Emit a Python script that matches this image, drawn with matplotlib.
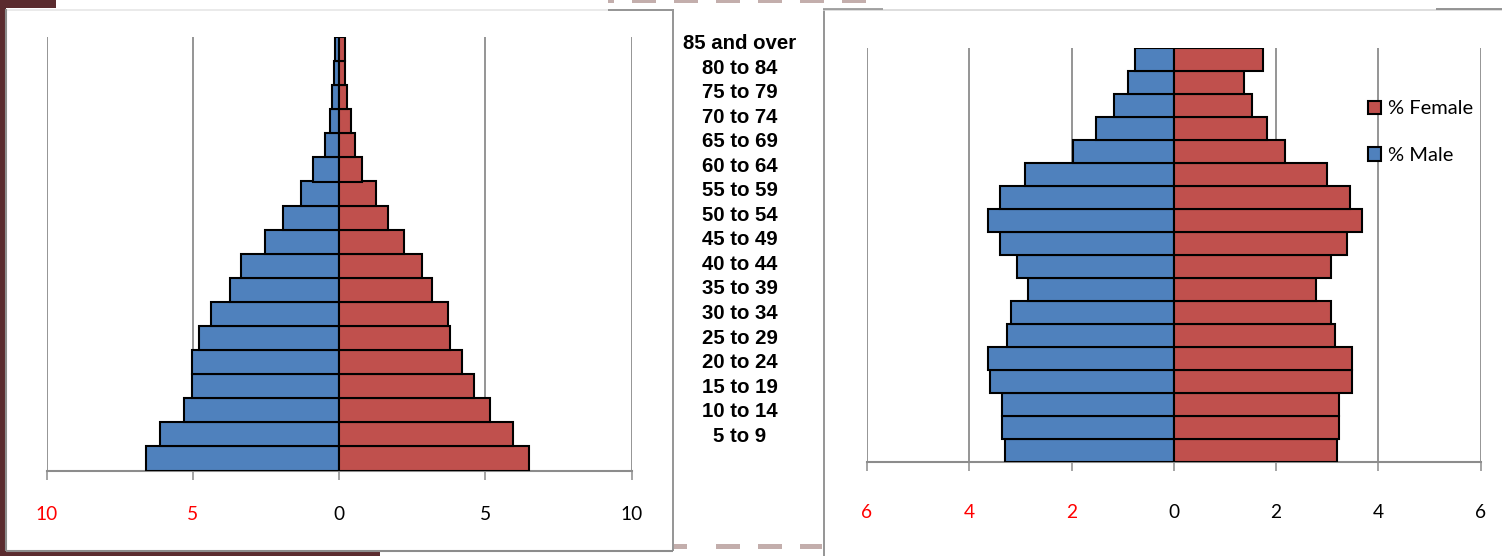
import matplotlib
matplotlib.use("Agg")
import matplotlib.pyplot as plt
from matplotlib.patches import Rectangle
from matplotlib.lines import Line2D
import numpy as np

# ---------------- data ----------------
age_groups = ['0 to 4', '5 to 9', '10 to 14', '15 to 19', '20 to 24', '25 to 29',
              '30 to 34', '35 to 39', '40 to 44', '45 to 49', '50 to 54', '55 to 59',
              '60 to 64', '65 to 69', '70 to 74', '75 to 79', '80 to 84', '85 and over']
# labels shown in the middle text box (top to bottom)
shown_labels = ['85 and over', '80 to 84', '75 to 79', '70 to 74', '65 to 69', '60 to 64',
                '55 to 59', '50 to 54', '45 to 49', '40 to 44', '35 to 39', '30 to 34',
                '25 to 29', '20 to 24', '15 to 19', '10 to 14', '5 to 9']

left_male = [6.60, 6.13, 5.31, 5.04, 5.04, 4.78, 4.36, 3.74, 3.35, 2.53, 1.92, 1.30,
             0.89, 0.49, 0.30, 0.23, 0.18, 0.14]
left_female = [6.49, 5.95, 5.15, 4.61, 4.20, 3.79, 3.72, 3.18, 2.85, 2.23, 1.68, 1.28,
               0.79, 0.53, 0.40, 0.26, 0.20, 0.20]

right_male = [3.31, 3.35, 3.35, 3.59, 3.63, 3.27, 3.19, 2.86, 3.06, 3.39, 3.63, 3.39,
              2.90, 1.97, 1.53, 1.17, 0.89, 0.76]
right_female = [3.20, 3.24, 3.24, 3.48, 3.48, 3.16, 3.08, 2.79, 3.08, 3.39, 3.69, 3.44,
                3.00, 2.18, 1.82, 1.54, 1.38, 1.75]

left_ticks = [-10, -5, 0, 5, 10]
left_ticklabels = ['10', '5', '0', '5', '10']
right_ticks = [-6, -4, -2, 0, 2, 4, 6]
right_ticklabels = ['6', '4', '2', '0', '2', '4', '6']
series_names = ['% Female', '% Male']

# ---------------- style ----------------
BLUE = '#4f81bd'
RED = '#c0504d'
GRID = '#8c8c8c'
BROWN = '#5a2b2e'
DASH = '#c3aeac'
TICKFONT = 'Lato'
W, H = 1502, 556

fig = plt.figure(figsize=(W / 100, H / 100), dpi=100)
fig.patch.set_facecolor('white')


def rect(x0, y0, x1, y1, color, z=0):
    fig.add_artist(Rectangle((x0 / W, 1 - y1 / H), (x1 - x0) / W, (y1 - y0) / H,
                             transform=fig.transFigure, facecolor=color,
                             edgecolor='none', zorder=z))


def hline(x0, x1, y, color, lw=1.1, z=1):
    fig.add_artist(Line2D([x0 / W, x1 / W], [1 - y / H, 1 - y / H], transform=fig.transFigure,
                          color=color, lw=lw, zorder=z, solid_capstyle='butt'))


def vline(x, y0, y1, color, lw=1.1, z=1):
    fig.add_artist(Line2D([x / W, x / W], [1 - y0 / H, 1 - y1 / H], transform=fig.transFigure,
                          color=color, lw=lw, zorder=z, solid_capstyle='butt'))


# slide background pieces
rect(0, 0, 6, H, BROWN)
rect(0, 0, 56, 8, BROWN)
rect(0, 551, 380, H, BROWN)

# left chart box borders
hline(7, 608, 10, '#e4e4e4')
hline(608, 672, 9.5, GRID, lw=1.3)
vline(6.5, 9, 551, GRID, lw=1.5)
hline(6, 673, 550.5, GRID, lw=1.5)
vline(672.5, 9, 551, GRID, lw=1.3)

# right chart box borders
vline(823.5, 9, H, GRID, lw=1.3)
hline(823, 1502, 10, '#d4d4d4')
hline(823, 883, 9.3, GRID, lw=1.1)
hline(1436, 1502, 9, GRID, lw=1.3)

# dashed decorative lines
for s in range(590, 884, 42):
    a, b = max(s, 608), min(s + 24, 883)
    if b > a:
        rect(a, 0, b, 3, DASH)
for a, b in [(674, 687), (716, 740), (758, 782), (800, 822)]:
    rect(a, 544, b, 549, DASH)


def pyramid(ax, male, female, ticks, ticklabels, xlim, pad):
    y = np.arange(len(male))
    bm = ax.barh(y, -np.asarray(male), height=1.0, color=BLUE, edgecolor='black',
                 linewidth=1.5, zorder=3)
    bf = ax.barh(y, female, height=1.0, color=RED, edgecolor='black',
                 linewidth=1.5, zorder=3)
    ax.set_xlim(*xlim)
    ax.set_ylim(-0.5, len(male) - 0.5)
    ax.set_xticks(ticks)
    ax.set_xticklabels(ticklabels, fontfamily=TICKFONT, fontsize=13.8)
    for t, v in zip(ax.get_xticklabels(), ticks):
        t.set_color('red' if v < 0 else 'black')
    ax.set_yticks([])
    ax.grid(axis='x', color=GRID, lw=1.3, zorder=0)
    ax.set_axisbelow(True)
    for s in ['top', 'left', 'right']:
        ax.spines[s].set_visible(False)
    ax.spines['bottom'].set_color(GRID)
    ax.spines['bottom'].set_linewidth(1.5)
    ax.tick_params(axis='x', direction='out', length=6.5, width=1.1, color=GRID, pad=pad)
    ax.patch.set_alpha(0)
    return bm, bf


axL = fig.add_axes([46.5 / W, 1 - 470.5 / H, 585 / W, 433.5 / H])
pyramid(axL, left_male, left_female, left_ticks, left_ticklabels, (-10, 10), 19)

axR = fig.add_axes([867 / W, 1 - 462 / H, 613.5 / W, 414 / H])
bm, bf = pyramid(axR, right_male, right_female, right_ticks, right_ticklabels, (-6, 6), 24)

axR.legend(handles=[bf, bm], labels=series_names, loc='upper left',
           bbox_to_anchor=(1368 / W, 1 - 100.5 / H), bbox_transform=fig.transFigure,
           frameon=False, borderpad=0, borderaxespad=0, handlelength=0.65,
           handleheight=0.65, handletextpad=0.33, labelspacing=1.46,
           prop={'family': TICKFONT, 'size': 14.5})

# middle text box with age labels
for i, lab in enumerate(shown_labels):
    fig.text(740 / W, 1 - (49.3 + 24.52 * i) / H, lab, ha='center', va='baseline',
             fontfamily='Liberation Sans', fontweight='bold', fontsize=14.7)

fig.savefig('out.png', dpi=100)
